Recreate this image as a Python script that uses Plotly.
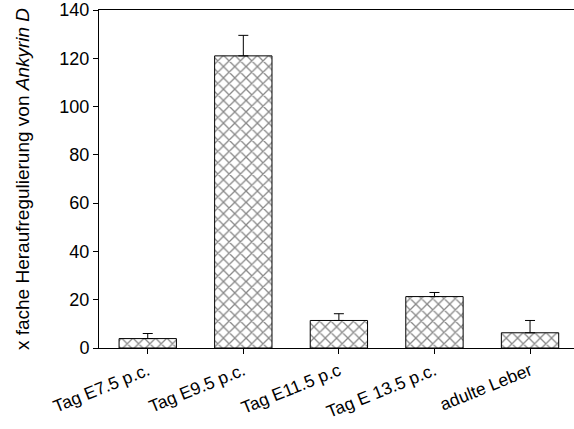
import plotly.graph_objects as go

# Expression of Ankyrin D across developmental stages
categories = ["Tag E7.5 p.c.", "Tag E9.5 p.c.", "Tag E11.5 p.c", "Tag E 13.5 p.c.", "adulte Leber"]
fold_change = [3.9, 121.0, 11.4, 21.3, 6.3]
error_upper = [2.1, 8.5, 2.8, 1.7, 5.1]
y_ticks = [0, 20, 40, 60, 80, 100, 120, 140]

font_family = "Liberation Sans, Arial, sans-serif"

fig = go.Figure()
fig.add_trace(go.Bar(
    x=list(range(len(categories))),
    y=fold_change,
    width=0.6,
    marker=dict(
        color="white",
        line=dict(color="black", width=1),
        pattern=dict(shape="x", size=8, solidity=0.3, fgcolor="#111", bgcolor="white"),
    ),
    error_y=dict(
        type="data",
        array=error_upper,
        arrayminus=[0] * len(error_upper),
        symmetric=False,
        color="black",
        thickness=1,
        width=5,
    ),
    showlegend=False,
))

fig.update_layout(
    width=574,
    height=429,
    margin=dict(l=99, r=0, t=5, b=81),
    paper_bgcolor="white",
    plot_bgcolor="white",
    font=dict(family=font_family, size=18, color="black"),
    bargap=0.4,
)

fig.update_xaxes(
    range=[-0.51, 4.46],
    tickmode="array",
    tickvals=list(range(len(categories))),
    ticktext=categories,
    tickangle=-22,
    ticks="outside",
    ticklen=5,
    tickcolor="black",
    showline=True,
    linecolor="black",
    linewidth=1,
    mirror=True,
    showgrid=False,
    zeroline=False,
    tickfont=dict(size=17.5),
)

fig.update_yaxes(
    range=[0, 140],
    tickmode="array",
    tickvals=y_ticks,
    ticktext=[str(v) for v in y_ticks],
    ticks="outside",
    ticklen=5,
    tickcolor="black",
    ticklabeloverflow="allow",
    showline=True,
    linecolor="black",
    linewidth=1,
    showgrid=False,
    zeroline=False,
    tickfont=dict(size=18),
    title=dict(text="x fache Heraufregulierung von <i>Ankyrin D</i>", font=dict(size=19), standoff=24),
)

fig.write_html("out.html")
